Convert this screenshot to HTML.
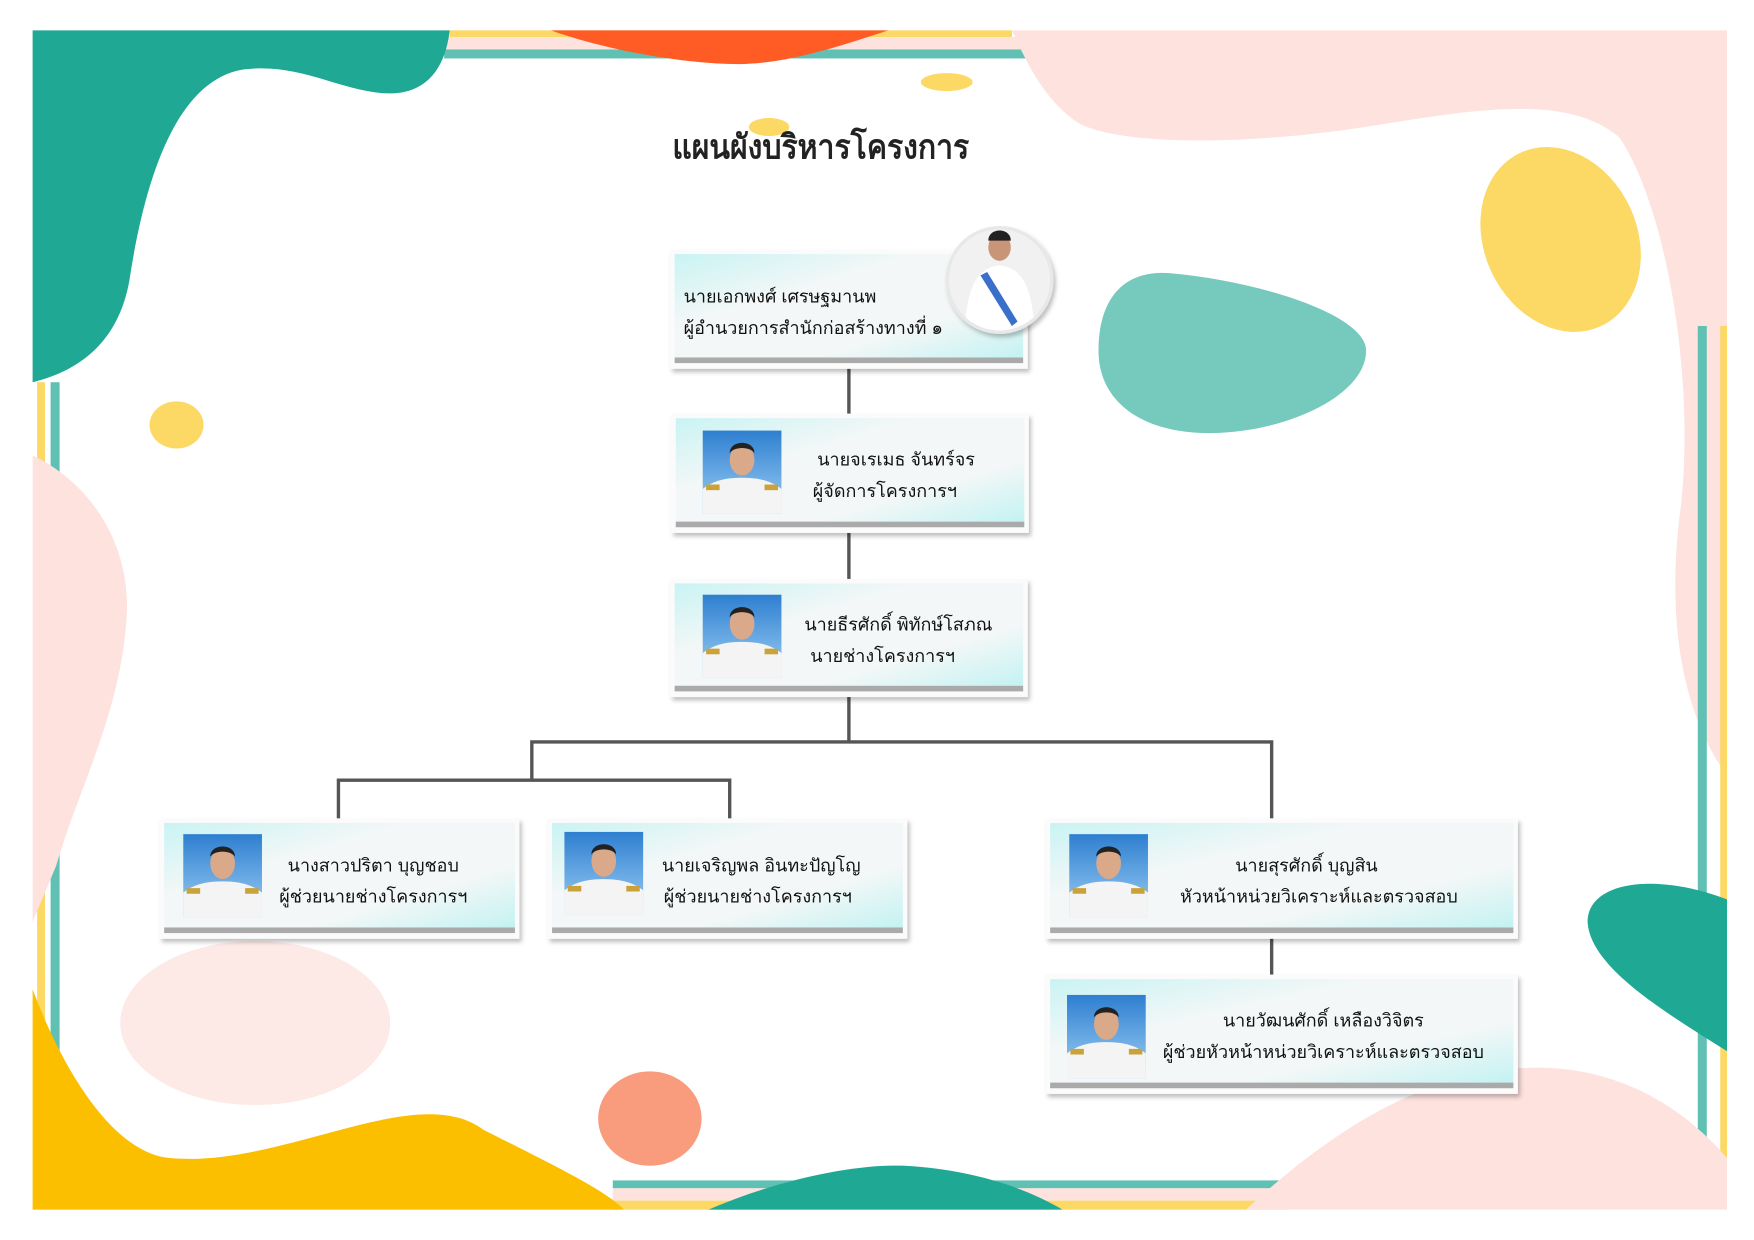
<!DOCTYPE html>
<html><head><meta charset="utf-8"><style>
html,body{margin:0;padding:0;background:#fff}
svg{display:block}
text{font-family:"Liberation Sans","DejaVu Sans",sans-serif;fill:#111}
</style></head><body>
<svg width="1754" height="1240" viewBox="0 0 1560 1103" preserveAspectRatio="none" xmlns="http://www.w3.org/2000/svg">
<defs>
<linearGradient id="bx" x1="0" y1="0" x2="1" y2="1">
<stop offset="0" stop-color="#c9f3f3"/><stop offset="0.35" stop-color="#f3f7f7"/><stop offset="0.7" stop-color="#f3f7f7"/><stop offset="1" stop-color="#c4f2f2"/></linearGradient>
<linearGradient id="ph" x1="0" y1="0" x2="0" y2="1"><stop offset="0" stop-color="#2e7fd0"/><stop offset="1" stop-color="#9fd0f5"/></linearGradient>
<filter id="sh" x="-10%" y="-10%" width="130%" height="130%"><feDropShadow dx="2" dy="3" stdDeviation="2" flood-color="#000" flood-opacity="0.25"/></filter>
<g id="person">
<rect x="0" y="0" width="70" height="74" fill="url(#ph)"/>
<path d="M0,74 L0,52 C10,44 22,42 35,42 C48,42 60,44 70,52 L70,74 Z" fill="#f4f4f4"/>
<ellipse cx="35" cy="26" rx="11" ry="14" fill="#d9a98a"/>
<path d="M24,20 C24,8 46,8 46,20 C42,14 28,14 24,20 Z" fill="#222"/>
<rect x="3" y="48" width="12" height="5" fill="#c9a23a"/><rect x="55" y="48" width="12" height="5" fill="#c9a23a"/>
</g>
</defs>
<rect x="29" y="27" width="1507" height="1049" fill="#fff"/>
<rect x="400" y="27" width="500" height="6" fill="#fcd864"/>
<rect x="395" y="33" width="515" height="11" fill="#fde2de"/>
<rect x="395" y="44" width="520" height="8" fill="#5fc0b3"/>
<path d="M490,27 L790,27 C750,40 700,57 657,57 C610,57 540,45 490,27 Z" fill="#ff5b25"/>
<path d="M29,27 L400,27 C396,60 380,85 342,83 C300,80 265,55 215,62 C160,72 130,150 115,250 C105,305 70,330 29,340 Z" fill="#1fa894"/>
<path d="M900,27 L1536,27 L1536,690 C1500,640 1480,560 1495,450 C1508,330 1480,180 1440,122 C1390,80 1300,100 1200,115 C1110,128 1000,130 960,110 C930,90 915,60 900,27 Z" fill="#fde2de"/>
<ellipse cx="1388" cy="213" rx="68" ry="85" transform="rotate(-25 1388 213)" fill="#fcd864"/>
<path d="M1040,243 C1120,250 1215,280 1215,312 C1215,350 1150,382 1085,385 C1020,388 977,360 977,312 C977,265 1000,240 1040,243 Z" fill="#75c9bd"/>
<ellipse cx="157" cy="378" rx="24" ry="21" fill="#fcd864"/>
<ellipse cx="842" cy="73" rx="23" ry="8" fill="#fcd864"/>
<ellipse cx="684" cy="113" rx="18" ry="8" fill="#fcd864"/>
<rect x="33" y="340" width="7" height="720" fill="#fcd864"/>
<rect x="45" y="340" width="8" height="720" fill="#5fc0b3"/>
<path d="M29,405 C80,430 113,480 113,540 C110,630 70,700 50,770 L29,820 Z" fill="#fde2de"/>
<rect x="1510" y="290" width="8" height="760" fill="#5fc0b3"/>
<rect x="1530" y="290" width="6" height="760" fill="#fcd864"/>
<path d="M1536,800 C1470,775 1412,785 1412,820 C1414,860 1480,900 1536,935 Z" fill="#1fa894"/>
<ellipse cx="227" cy="910" rx="120" ry="73" fill="#fde9e6"/>
<rect x="545" y="1050" width="600" height="7" fill="#5fc0b3"/>
<rect x="545" y="1057" width="600" height="11" fill="#fde2de"/>
<rect x="545" y="1068" width="600" height="8" fill="#fcd864"/>
<path d="M29,880 C55,950 100,1025 150,1030 C250,1040 370,960 430,1005 C500,1040 540,1060 555,1076 L29,1076 Z" fill="#fbbf00"/>
<ellipse cx="578" cy="995" rx="46" ry="42" fill="#f99b7d"/>
<path d="M630,1076 C690,1050 760,1035 805,1037 C860,1040 910,1055 945,1076 Z" fill="#1fa894"/>
<path d="M1108,1076 C1190,1000 1280,945 1380,950 C1460,955 1510,1000 1536,1030 L1536,1076 Z" fill="#fde2de"/>
<text x="598" y="141" textLength="264" lengthAdjust="spacingAndGlyphs" font-size="30" font-weight="bold" style="fill:#222">แผนผังบริหารโครงการ</text>
<g stroke="#555" stroke-width="3" fill="none">
<line x1="755" y1="328" x2="755" y2="368"/>
<line x1="755" y1="474" x2="755" y2="515"/>
<line x1="755" y1="620" x2="755" y2="660"/>
<polyline points="473,694 473,660 1131,660 1131,728"/>
<polyline points="301,728 301,694 649,694 649,728"/>
<line x1="1131" y1="835" x2="1131" y2="867"/>
</g>
<g filter="url(#sh)">
<rect x="596" y="222" width="318" height="106" fill="#fbfbfb"/>
<rect x="597" y="368" width="318" height="106" fill="#fbfbfb"/>
<rect x="596" y="515" width="318" height="105" fill="#fbfbfb"/>
<rect x="142" y="728" width="320" height="107" fill="#fbfbfb"/>
<rect x="487" y="728" width="320" height="107" fill="#fbfbfb"/>
<rect x="930" y="728" width="420" height="107" fill="#fbfbfb"/>
<rect x="930" y="867" width="420" height="106" fill="#fbfbfb"/>
</g>
<g fill="url(#bx)">
<rect x="600" y="226" width="310" height="92"/>
<rect x="601" y="372" width="310" height="92"/>
<rect x="600" y="519" width="310" height="91"/>
<rect x="146" y="732" width="312" height="93"/>
<rect x="491" y="732" width="312" height="93"/>
<rect x="934" y="732" width="412" height="93"/>
<rect x="934" y="871" width="412" height="92"/>
</g>
<g fill="#aaa">
<rect x="600" y="318" width="310" height="5"/>
<rect x="601" y="464" width="310" height="5"/>
<rect x="600" y="610" width="310" height="5"/>
<rect x="146" y="825" width="312" height="5"/>
<rect x="491" y="825" width="312" height="5"/>
<rect x="934" y="825" width="412" height="5"/>
<rect x="934" y="963" width="412" height="5"/>
</g>
<circle cx="889" cy="249" r="48" fill="#e8e8e8" filter="url(#sh)"/>
<clipPath id="cc"><circle cx="889" cy="249" r="45"/></clipPath>
<g clip-path="url(#cc)"><rect x="844" y="204" width="90" height="90" fill="#f1f1f1"/>
<path d="M858,294 C860,250 872,238 889,236 C906,238 918,250 920,294 Z" fill="#fff"/>
<path d="M872,245 L900,290 L905,286 L878,242 Z" fill="#3a70c9"/>
<ellipse cx="889" cy="220" rx="10" ry="12" fill="#c99577"/>
<path d="M879,214 C879,202 899,202 899,214 Z" fill="#222"/></g>
<use href="#person" x="625" y="383"/>
<use href="#person" x="625" y="529"/>
<use href="#person" x="163" y="742"/>
<use href="#person" x="502" y="740"/>
<use href="#person" x="951" y="742"/>
<use href="#person" x="949" y="885"/>
<g font-size="16">
<text x="608" y="269">นายเอกพงศ์  เศรษฐมานพ</text>
<text x="608" y="297">ผู้อำนวยการสำนักก่อสร้างทางที่ ๑</text>
<text x="797" y="414" text-anchor="middle">นายจเรเมธ จันทร์จร</text>
<text x="787" y="442" text-anchor="middle">ผู้จัดการโครงการฯ</text>
<text x="799" y="561" text-anchor="middle">นายธีรศักดิ์ พิทักษ์โสภณ</text>
<text x="785" y="589" text-anchor="middle">นายช่างโครงการฯ</text>
<text x="332" y="775" text-anchor="middle">นางสาวปริตา บุญชอบ</text>
<text x="332" y="803" text-anchor="middle">ผู้ช่วยนายช่างโครงการฯ</text>
<text x="677" y="775" text-anchor="middle">นายเจริญพล อินทะปัญโญ</text>
<text x="674" y="803" text-anchor="middle">ผู้ช่วยนายช่างโครงการฯ</text>
<text x="1162" y="775" text-anchor="middle">นายสุรศักดิ์ บุญสิน</text>
<text x="1173" y="803" text-anchor="middle">หัวหน้าหน่วยวิเคราะห์และตรวจสอบ</text>
<text x="1177" y="913" text-anchor="middle">นายวัฒนศักดิ์ เหลืองวิจิตร</text>
<text x="1177" y="941" text-anchor="middle">ผู้ช่วยหัวหน้าหน่วยวิเคราะห์และตรวจสอบ</text>
</g>
</svg>
</body></html>
